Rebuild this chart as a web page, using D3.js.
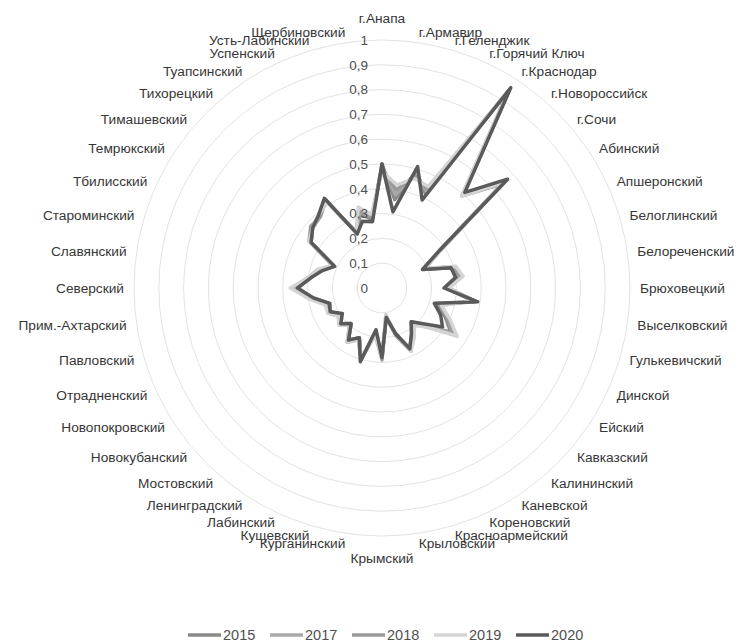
<!DOCTYPE html>
<html>
<head>
<meta charset="utf-8">
<script src="https://cdn.jsdelivr.net/npm/d3@7"></script>
<style>
  body { margin: 0; background: #fff; }
  svg { font-family: "Liberation Sans", Arial, sans-serif; }
</style>
</head>
<body>
<div id="chart"></div>
<script>
var categories = ['г.Анапа', 'г.Армавир', 'г.Геленджик', 'г.Горячий Ключ', 'г.Краснодар', 'г.Новороссийск', 'г.Сочи',
  'Абинский', 'Апшеронский', 'Белоглинский', 'Белореченский', 'Брюховецкий', 'Выселковский', 'Гулькевичский',
  'Динской', 'Ейский', 'Кавказский', 'Калининский', 'Каневской', 'Кореновский', 'Красноармейский', 'Крыловский',
  'Крымский', 'Курганинский', 'Кущевский', 'Лабинский', 'Ленинградский', 'Мостовский', 'Новокубанский',
  'Новопокровский', 'Отрадненский', 'Павловский', 'Прим.-Ахтарский', 'Северский', 'Славянский', 'Староминский',
  'Тбилисский', 'Темрюкский', 'Тимашевский', 'Тихорецкий', 'Туапсинский', 'Успенский', 'Усть-Лабинский', 'Щербиновский']

var values2015 = [0.50,0.36,0.49,0.42,0.95,0.50,0.65,0.27,0.18,0.29,0.31,0.26,0.38,0.23,0.28,0.33,0.23,0.18,0.22,0.27,0.19,0.12,
  0.28,0.18,0.30,0.22,0.25,0.19,0.22,0.20,0.23,0.22,0.28,0.35,0.29,0.26,0.21,0.34,0.37,0.39,0.42,0.24,0.31,0.28]
var values2017 = [0.49,0.38,0.48,0.43,0.94,0.49,0.64,0.27,0.19,0.30,0.31,0.26,0.37,0.24,0.29,0.34,0.23,0.19,0.23,0.27,0.20,0.12,
  0.28,0.18,0.30,0.22,0.25,0.20,0.22,0.20,0.23,0.23,0.29,0.35,0.30,0.26,0.22,0.34,0.37,0.38,0.42,0.25,0.32,0.29]
var values2018 = [0.48,0.40,0.47,0.44,0.95,0.50,0.66,0.28,0.19,0.30,0.32,0.27,0.38,0.24,0.29,0.35,0.24,0.19,0.23,0.28,0.20,0.11,
  0.29,0.19,0.30,0.23,0.26,0.20,0.22,0.21,0.24,0.23,0.29,0.36,0.30,0.26,0.22,0.35,0.38,0.38,0.42,0.25,0.33,0.29]
var values2019 = [0.47,0.42,0.46,0.45,0.95,0.49,0.65,0.28,0.19,0.31,0.33,0.27,0.37,0.25,0.30,0.36,0.24,0.20,0.24,0.28,0.19,0.11,
  0.28,0.19,0.29,0.23,0.26,0.20,0.23,0.21,0.24,0.24,0.30,0.37,0.30,0.27,0.22,0.35,0.37,0.39,0.41,0.25,0.34,0.30]
var values2020 = [0.50,0.31,0.51,0.39,0.96,0.51,0.67,0.27,0.18,0.29,0.30,0.25,0.39,0.22,0.26,0.29,0.22,0.18,0.22,0.27,0.19,0.12,
  0.28,0.17,0.31,0.22,0.25,0.19,0.22,0.19,0.23,0.22,0.28,0.34,0.29,0.25,0.21,0.34,0.37,0.39,0.43,0.24,0.28,0.27]

var tickValues = [0, 0.1, 0.2, 0.3, 0.4, 0.5, 0.6, 0.7, 0.8, 0.9, 1]
var tickLabels = ['0', '0,1', '0,2', '0,3', '0,4', '0,5', '0,6', '0,7', '0,8', '0,9', '1']

var seriesNames = ['2015', '2017', '2018', '2019', '2020']
var seriesColours = ['#8a8a8a', '#a8a8a8', '#9a9a9a', '#d4d4d4', '#5a5a5a']
var seriesValues = [values2015, values2017, values2018, values2019, values2020]

var width = 747, height = 644
var cx = 382, cy = 288, radius = 248

var svg = d3.select('#chart').append('svg')
  .attr('width', width)
  .attr('height', height)

svg.append('rect').attr('width', width).attr('height', height).attr('fill', '#fff')

var r = d3.scaleLinear().domain([0, 1]).range([0, radius])
var angle = d3.scaleLinear().domain([0, categories.length]).range([0, 2 * Math.PI])

var plot = svg.append('g').attr('transform', 'translate(' + cx + ',' + cy + ')')

// circular grid
plot.append('g').selectAll('circle')
  .data(tickValues.slice(1))
  .enter().append('circle')
    .attr('r', function(d){ return r(d) })
    .attr('fill', 'none')
    .attr('stroke', '#e3e3e3')
    .attr('stroke-width', 1)

var line = d3.lineRadial()
  .angle(function(d, i){ return angle(i) })
  .radius(function(d){ return r(d) })
  .curve(d3.curveLinearClosed)

plot.append('g').selectAll('path')
  .data(seriesValues)
  .enter().append('path')
    .attr('d', line)
    .attr('fill', 'none')
    .attr('stroke', function(d, i){ return seriesColours[i] })
    .attr('stroke-width', 3.5)
    .attr('stroke-linejoin', 'round')

// value axis labels
plot.append('g').selectAll('text')
  .data(tickValues)
  .enter().append('text')
    .attr('x', -14)
    .attr('y', function(d){ return -r(d) })
    .attr('dy', '0.35em')
    .attr('text-anchor', 'end')
    .attr('fill', '#505050')
    .style('font-size', '13.5px')
    .text(function(d, i){ return tickLabels[i] })

// category labels
var labelR = radius + 10
plot.append('g').selectAll('text')
  .data(categories)
  .enter().append('text')
    .attr('x', function(d, i){ return labelR * Math.sin(angle(i)) })
    .attr('y', function(d, i){
      var c = Math.cos(angle(i))
      var y = -labelR * c
      if (Math.abs(c) > 0.999) y = y - 12 * c
      return y
    })
    .attr('dy', '0.35em')
    .attr('text-anchor', function(d, i){
      var s = Math.sin(angle(i))
      if (s > 0.01) return 'start'
      if (s < -0.01) return 'end'
      return 'middle'
    })
    .attr('fill', '#363636')
    .style('font-size', '13.7px')
    .text(function(d){ return d })

// legend
var legend = svg.append('g').attr('transform', 'translate(188,635)')
var legendItems = legend.selectAll('g')
  .data(seriesNames)
  .enter().append('g')
    .attr('transform', function(d, i){ return 'translate(' + (i * 82) + ',0)' })

legendItems.append('line')
  .attr('x1', 0).attr('x2', 33)
  .attr('y1', 0).attr('y2', 0)
  .attr('stroke', function(d, i){ return seriesColours[i] })
  .attr('stroke-width', 3.5)

legendItems.append('text')
  .attr('x', 35)
  .attr('dy', '0.35em')
  .attr('fill', '#505050')
  .style('font-size', '14.5px')
  .text(function(d){ return d })
</script>
</body>
</html>
